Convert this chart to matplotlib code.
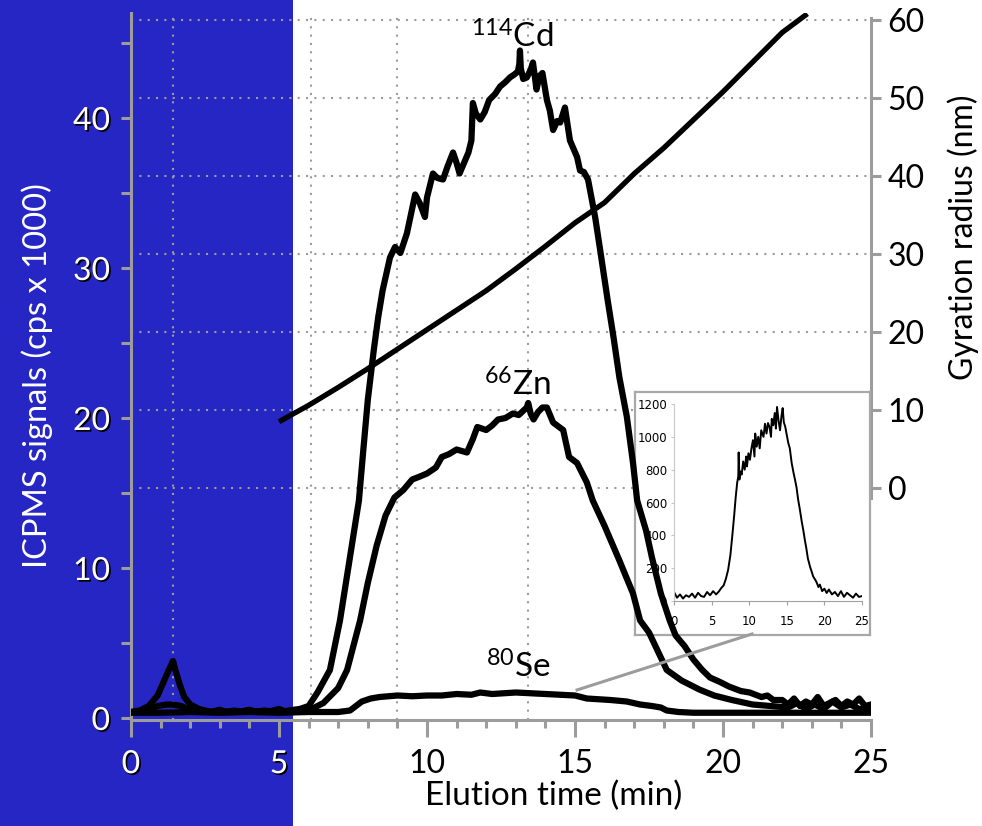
import matplotlib

matplotlib.use("Agg")
import matplotlib.pyplot as plt
import matplotlib.patheffects as pe
from matplotlib import font_manager
from matplotlib.patches import Rectangle
from matplotlib.ticker import MultipleLocator

plt.rcParams["font.family"] = "Lato"
plt.rcParams["mathtext.fontset"] = "custom"
plt.rcParams["mathtext.rm"] = "Lato"
plt.rcParams["mathtext.it"] = "Lato:italic"
plt.rcParams["mathtext.bf"] = "Lato:bold"

# ---- data ----
CD_T = [0.0, 0.3, 0.6, 0.9, 1.1, 1.3, 1.42, 1.5, 1.65, 1.8, 2.0, 2.3, 2.5, 2.7, 3.0, 3.2, 3.5,
        3.7, 4.0, 4.2, 4.5, 4.7, 5.0, 5.2, 5.5, 5.7, 6.0, 6.3, 6.72, 7.06, 7.3, 7.5, 7.7, 7.85,
        8.0, 8.2, 8.35, 8.5, 8.75, 8.92, 9.1, 9.32, 9.45, 9.6, 9.76, 9.93, 10.0, 10.2, 10.35,
        10.54, 10.7, 10.88, 11.0, 11.1, 11.25, 11.4, 11.5, 11.55, 11.65, 11.8, 11.95, 12.1,
        12.3, 12.47, 12.65, 12.8, 12.95, 13.07, 13.12, 13.14, 13.17, 13.25, 13.37, 13.5,
        13.58, 13.7, 13.8, 13.9, 14.05, 14.15, 14.26, 14.4, 14.5, 14.66, 14.83, 15.07, 15.17,
        15.3, 15.44, 15.68, 15.85, 16.1, 16.3, 16.5, 16.75, 16.96, 17.1, 17.4, 17.6, 17.9,
        18.2, 18.4, 18.7, 19.0, 19.3, 19.56, 19.9, 20.2, 20.6, 20.9, 21.3, 21.5, 21.7, 22.0,
        22.2, 22.4, 22.6, 22.8, 23.0, 23.2, 23.4, 23.6, 23.8, 24.0, 24.2, 24.4, 24.6, 24.8, 25.0]
CD_V = [0.4, 0.5, 0.8, 1.5, 2.4, 3.3, 3.8, 3.2, 2.2, 1.4, 0.9, 0.6, 0.5, 0.4, 0.55, 0.4, 0.5,
        0.4, 0.55, 0.4, 0.5, 0.45, 0.6, 0.45, 0.55, 0.6, 0.8, 1.7, 3.2, 6.5, 9.5, 12.0, 14.5, 17.9,
        21.2, 24.5, 26.7, 28.5, 30.7, 31.4, 31.0, 32.3, 33.5, 34.9, 34.3, 33.4, 34.7, 36.3, 36.0,
        35.9, 36.8, 37.7, 37.0, 36.3, 37.0, 37.7, 38.5, 41.0, 40.3, 39.9, 40.4, 41.2,
        41.6, 42.1, 42.4, 42.7, 42.9, 43.1, 43.6, 44.5, 43.3, 42.6, 42.7, 43.2,
        43.7, 41.9, 42.8, 43.0, 41.2, 40.5, 39.2, 39.8, 39.7, 40.7, 38.5, 37.4, 36.5,
        36.4, 35.9, 33.4, 31.2, 27.9, 25.4, 22.7, 20.1, 17.0, 14.5, 12.5, 10.7, 8.3,
        6.5, 5.5, 4.8, 3.9, 3.2, 2.7, 2.4, 2.1, 1.8, 1.7, 1.4, 1.5, 1.2, 1.2,
        0.9, 1.3, 0.8, 1.1, 0.9, 1.4, 0.8, 1.0, 1.2, 0.8, 1.1, 0.9, 1.3, 0.8, 0.9]

ZN_T = [0.0, 0.5, 0.9, 1.2, 1.4, 1.7, 2.0, 2.5, 3.0, 3.5, 4.0, 4.5, 5.0, 5.5, 6.0, 6.5, 7.0,
        7.3, 7.74, 8.0, 8.3, 8.6, 8.9, 9.2, 9.5, 9.76, 10.0, 10.3, 10.5, 10.75, 11.0, 11.35,
        11.55, 11.7, 12.0, 12.2, 12.4, 12.65, 12.9, 13.1, 13.37, 13.42, 13.5, 13.6, 13.75, 13.9,
        14.05, 14.26, 14.6, 14.8, 15.07, 15.4, 15.6, 16.0, 16.5, 16.96, 17.2, 17.5, 18.1, 18.6,
        19.2, 19.7, 20.3, 21.0, 21.6, 22.2, 22.5, 22.8, 23.1, 23.4, 23.7, 24.0, 24.3, 24.6, 25.0]
ZN_V = [0.4, 0.5, 0.8, 0.9, 0.9, 0.8, 0.5, 0.4, 0.45, 0.4, 0.5, 0.4, 0.45, 0.4, 0.5, 1.0, 2.0,
        3.2, 6.5, 9.0, 11.5, 13.5, 14.7, 15.2, 15.9, 16.1, 16.3, 16.7, 17.4, 17.6, 17.9, 17.7,
        18.6, 19.4, 19.2, 19.5, 19.9, 20.0, 20.3, 20.2, 20.7, 21.0, 20.3, 19.9, 20.4, 20.7,
        20.7, 19.7, 19.2, 17.4, 17.0, 15.7, 14.5, 12.8, 10.5, 8.3, 6.5, 5.7, 3.2, 2.5,
        1.9, 1.5, 1.2, 0.9, 0.8, 0.7, 1.0, 0.6, 0.9, 0.6, 1.1, 0.7, 0.9, 0.6, 0.7]

SE_T = [0.0, 1.0, 2.0, 3.0, 4.0, 5.0, 6.0, 7.0, 7.4, 7.6, 7.8, 8.1, 8.4, 9.0, 9.5, 10.0,
        10.5, 11.0, 11.5, 11.8, 12.2, 12.6, 13.0, 13.5, 14.0, 14.5, 15.0, 15.4, 15.8, 16.2,
        16.75, 17.2, 17.6, 17.9, 18.1, 18.5, 19.0, 20.0, 21.0, 22.0, 23.0, 24.0, 25.0]
SE_V = [0.35, 0.35, 0.4, 0.35, 0.4, 0.35, 0.4, 0.4, 0.5, 0.8, 1.1, 1.3, 1.4, 1.5, 1.45, 1.5,
        1.5, 1.6, 1.55, 1.7, 1.6, 1.65, 1.7, 1.65, 1.6, 1.55, 1.5, 1.3, 1.25, 1.2,
        1.1, 0.9, 0.8, 0.7, 0.5, 0.4, 0.35, 0.35, 0.35, 0.35, 0.35, 0.35, 0.35]

# gyration radius (right axis, nm)
RG_T = [5.0, 6.0, 7.0, 8.0, 9.0, 10.0, 11.0, 12.0, 13.0, 14.0, 15.0, 16.0, 17.0, 18.0,
        19.0, 20.0, 21.0, 22.0, 22.85]
RG_NM = [8.5, 10.6, 12.9, 15.3, 17.8, 20.3, 22.8, 25.3, 28.1, 31.0, 34.0, 36.6, 40.3, 43.6,
         47.2, 50.8, 54.6, 58.4, 60.8]

# inset: 80Se signal (cps)
INS_T = [0.0, 0.4, 0.8, 1.2, 1.6, 2.0, 2.4, 2.8, 3.2, 3.6, 4.0, 4.4, 4.8, 5.2, 5.6, 6.0,
         6.3, 6.6, 6.9, 7.2, 7.5, 7.8, 8.0, 8.2, 8.4, 8.55, 8.6, 8.7, 8.8, 9.0, 9.2, 9.4,
         9.6, 9.7, 9.9, 10.1, 10.3, 10.5, 10.7, 10.8, 11.0, 11.2, 11.4, 11.6, 11.9, 12.1,
         12.3, 12.5, 12.7, 12.9, 13.0, 13.2, 13.4, 13.55, 13.7, 13.9, 14.1, 14.3, 14.45,
         14.6, 14.8, 15.0, 15.2, 15.4, 15.65, 15.9, 16.1, 16.3, 16.5, 16.75, 17.0, 17.2,
         17.4, 17.6, 17.8, 18.1, 18.3, 18.5, 18.8, 19.0, 19.2, 19.4, 19.7, 20.0, 20.3,
         20.6, 21.0, 21.4, 21.8, 22.2, 22.6, 23.0, 23.4, 23.8, 24.2, 24.6, 25.0]
INS_V = [55, 20, 40, 15, 35, 25, 45, 20, 50, 30, 25, 55, 35, 60, 40, 60,
         80, 95, 135, 190, 280, 420, 520, 630, 720, 760, 905, 740, 790, 770, 850, 800,
         880, 820, 900, 860, 930, 980, 880, 1020, 940, 1000, 930, 1040, 1000, 1080,
         1020, 1084, 1060, 1000, 1110, 1070, 1145, 1050, 1182, 1100, 1040, 1130, 1175,
         1090, 1060, 1010, 962, 930, 840, 780, 737, 690, 620, 554, 480, 430,
         371, 320, 260, 207, 180, 150, 128, 110, 85, 100, 60, 75, 49,
         70, 40, 55, 30, 60, 25, 50, 35, 20, 45, 25, 30]

GUIDE_X = [1.42, 6.08, 8.99, 13.41]
LEFT_TICKS = [0, 10, 20, 30, 40]
RIGHT_TICKS = [0, 10, 20, 30, 40, 50, 60]
INS_XTICKS = [0, 5, 10, 15, 20, 25]
INS_YTICKS = [0, 200, 400, 600, 800, 1000, 1200]

BLUE = "#2626c4"
GRAY = "#9c9c9c"
W, H = 982, 826

names = {f.name for f in font_manager.fontManager.ttflist}
NARROW = "Liberation Sans Narrow" if "Liberation Sans Narrow" in names else "DejaVu Sans"


def fx(px):
    return px / W


def fy(py):
    return 1 - py / H


fig = plt.figure(figsize=(W / 100, H / 100), dpi=100)
fig.add_artist(Rectangle((0, 0), fx(293), 1, transform=fig.transFigure,
                         facecolor=BLUE, edgecolor="none", zorder=-5))

rect = [fx(131), fy(720), (871 - 131) / W, (720 - 13) / H]
XLIM = (0, 25)
YLIM = (-0.133, 47.0)

ax = fig.add_axes(rect)
ax.set_facecolor("none")
ax.set_xlim(*XLIM)
ax.set_ylim(*YLIM)
ax.spines["top"].set_visible(False)
ax.spines["right"].set_visible(False)
for s in ["left", "bottom"]:
    ax.spines[s].set_color(GRAY)
    ax.spines[s].set_linewidth(2.2)

ax.set_xticks(range(0, 26, 5))
ax.xaxis.set_minor_locator(MultipleLocator(1))
ax.tick_params(axis="x", which="major", length=12, width=2.2, color=GRAY, labelsize=23, pad=9)
ax.tick_params(axis="x", which="minor", length=6, width=2.2, color=GRAY)
ax.set_yticks(LEFT_TICKS)
ax.set_yticks([5, 15, 25, 35, 45], minor=True)
ax.tick_params(axis="y", which="both", length=7, width=2.2, color=GRAY, labelsize=23,
               pad=8, labelcolor="white")

shadow = [pe.withSimplePatchShadow(offset=(1.2, -1.2), shadow_rgbFace="black", alpha=1.0)]
for t in ax.yaxis.get_major_ticks():
    t.label1.set_path_effects(shadow)
for t, v in zip(ax.xaxis.get_major_ticks(), range(0, 26, 5)):
    if v <= 5:
        t.label1.set_color("white")
        t.label1.set_path_effects(shadow)

for gx in GUIDE_X:
    ax.axvline(gx, color=GRAY, linestyle=(0, (1, 3)), linewidth=1.5, zorder=0.5)

ax_r = ax.twinx()
ax_r.set_ylim(-29.74, 60.9)
for s in ["top", "left", "bottom"]:
    ax_r.spines[s].set_visible(False)
ax_r.spines["right"].set_color(GRAY)
ax_r.spines["right"].set_linewidth(2.2)
ax_r.spines["right"].set_bounds(-1.3, 60.3)
ax_r.set_yticks(RIGHT_TICKS)
ax_r.tick_params(axis="y", length=7, width=2.2, color=GRAY, labelsize=23, pad=5)
ax_r.grid(axis="y", color=GRAY, linestyle=(0, (1, 3)), linewidth=1.5)
ax_r.plot(RG_T, RG_NM, color="black", linewidth=3.8, solid_capstyle="butt")

# inset (pasted picture of the Se signal)
box = fig.add_axes([fx(635), fy(635), 235 / W, 243 / H], zorder=2)
box.set_facecolor("white")
box.set_xticks([])
box.set_yticks([])
for s in box.spines.values():
    s.set_color("#a8a8a8")
    s.set_linewidth(1.6)

ins = fig.add_axes([fx(674), fy(601), 188 / W, 197 / H], zorder=3)
ins.set_facecolor("none")
ins.set_xlim(0, 25)
ins.set_ylim(0, 1200)
ins.plot(INS_T, INS_V, color="black", linewidth=1.4)
ins.spines["top"].set_visible(False)
ins.spines["right"].set_visible(False)
ins.spines["left"].set_color("#c8c8c8")
ins.spines["bottom"].set_color("#a0a0a0")
ins.set_xticks(INS_XTICKS)
ins.set_yticks(INS_YTICKS)
ins.tick_params(axis="x", length=3, width=0.8, color="#a0a0a0", pad=7, labelsize=8.5,
                labelfontfamily=NARROW)
ins.tick_params(axis="y", length=2, width=0.8, color="#c8c8c8", pad=3, labelsize=8.5,
                labelfontfamily=NARROW)

# overlay with the ICP-MS traces, drawn above the inset
top = fig.add_axes(rect, zorder=4)
top.set_facecolor("none")
top.axis("off")
top.set_xlim(*XLIM)
top.set_ylim(*YLIM)
for t, v in [(SE_T, SE_V), (ZN_T, ZN_V), (CD_T, CD_V)]:
    top.plot(t, v, color="black", linewidth=4.5, solid_joinstyle="round")
top.plot([15.07, 20.98], [1.87, 5.6], color=GRAY, linewidth=2.2)

top.text(12.87, 44.7, "$^{114}$Cd", fontsize=24, ha="center", va="baseline")
top.text(13.04, 21.5, "$^{66}$Zn", fontsize=24, ha="center", va="baseline")
top.text(13.07, 2.7, "$^{80}$Se", fontsize=24, ha="center", va="baseline")

fig.text(fx(554), fy(805), "Elution time (min)", fontsize=24, ha="center", va="baseline")
fig.text(fx(37), fy(376), "ICPMS signals (cps x 1000)", fontsize=23.5, color="white",
         rotation=90, ha="center", va="center")
fig.text(fx(963), fy(237), "Gyration radius (nm)", fontsize=23, rotation=90,
         ha="center", va="center")

fig.savefig("out.png", dpi=100)
